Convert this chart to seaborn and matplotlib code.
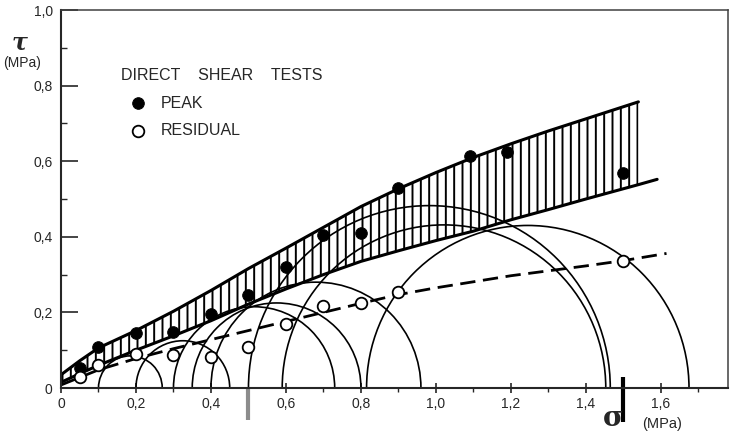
import matplotlib
matplotlib.use('Agg')
import numpy as np
import pandas as pd
import seaborn as sns
import matplotlib.pyplot as plt
from matplotlib.patches import Arc

sns.set_style('ticks')
plt.rcParams['font.family'] = ['Liberation Sans', 'DejaVu Sans']
plt.rcParams['hatch.linewidth'] = 1.4
plt.rcParams['lines.scale_dashes'] = False

# direct shear tests, normal stress sigma' vs shear stress tau (MPa)
peak_sigma = [0.05, 0.10, 0.20, 0.30, 0.40, 0.50, 0.60, 0.70, 0.80, 0.90, 1.09, 1.19, 1.50]
peak_tau = [0.052, 0.109, 0.146, 0.149, 0.196, 0.246, 0.321, 0.405, 0.409, 0.530, 0.615, 0.625, 0.570]

res_sigma = [0.05, 0.10, 0.20, 0.30, 0.40, 0.50, 0.60, 0.70, 0.80, 0.90, 1.50]
res_tau = [0.030, 0.061, 0.090, 0.087, 0.083, 0.109, 0.168, 0.217, 0.224, 0.255, 0.337]

# hatched peak strength band
band_sigma = [0.0, 0.05, 0.10, 0.20, 0.30, 0.40, 0.50, 0.60, 0.70, 0.80, 0.90, 1.00, 1.10, 1.20, 1.30, 1.40, 1.54]
band_upper = [0.035, 0.072, 0.106, 0.152, 0.203, 0.258, 0.316, 0.370, 0.425, 0.480, 0.527, 0.570, 0.610, 0.646, 0.680, 0.712, 0.757]
band_lower = [0.015, 0.038, 0.060, 0.100, 0.138, 0.178, 0.222, 0.262, 0.300, 0.335, 0.363, 0.390, 0.415, 0.445, 0.472, 0.500, 0.538]
lower_end = (1.59, 0.552)

# residual envelope (dashed)
res_env_sigma = [0.0, 0.10, 0.20, 0.30, 0.40, 0.50, 0.60, 0.70, 0.80, 0.90, 1.00, 1.20, 1.40, 1.50, 1.615]
res_env_tau = [0.008, 0.048, 0.078, 0.104, 0.128, 0.152, 0.176, 0.200, 0.224, 0.247, 0.265, 0.297, 0.323, 0.337, 0.356]

# Mohr circles (sigma3', sigma1')
circle_s3 = [0.10, 0.20, 0.30, 0.35, 0.40, 0.50, 0.59, 0.815]
circle_s1 = [0.27, 0.45, 0.73, 0.80, 0.96, 1.465, 1.453, 1.675]

x_ticks = [0, 0.2, 0.4, 0.6, 0.8, 1.0, 1.2, 1.4, 1.6]
y_ticks = [0, 0.2, 0.4, 0.6, 0.8, 1.0]

fig = plt.figure(figsize=(7.31, 4.34), dpi=100)
ax = fig.add_axes([61 / 731, 46 / 434, 667 / 731, 378 / 434])

# band
ax.fill_between(band_sigma, band_lower, band_upper, facecolor='none',
                edgecolor='black', hatch='||', linewidth=0)
sns.lineplot(x=band_sigma, y=band_upper, color='black', lw=2.2, ax=ax)
sns.lineplot(x=band_sigma + [lower_end[0]], y=band_lower + [lower_end[1]],
             color='black', lw=2.2, ax=ax)

# residual envelope
ax.plot(res_env_sigma, res_env_tau, color='black', lw=2.0, dashes=(11, 5.5))

# Mohr circles
for s3, s1 in zip(circle_s3, circle_s1):
    d = s1 - s3
    ax.add_patch(Arc(((s1 + s3) / 2, 0), d, d, theta1=0, theta2=180,
                     color='black', lw=1.2))

peaks = pd.DataFrame({'sigma': peak_sigma, 'tau': peak_tau})
resid = pd.DataFrame({'sigma': res_sigma, 'tau': res_tau})
sns.scatterplot(data=peaks, x='sigma', y='tau', color='black', edgecolor='black',
                s=70, zorder=5, label='PEAK', ax=ax)
sns.scatterplot(data=resid, x='sigma', y='tau', color='white', edgecolor='black',
                linewidth=1.3, s=70, zorder=5, label='RESIDUAL', ax=ax)

# hand marks under the axis at 0.5 and 1.5
ax.vlines([0.5], -0.085, 0.0, color='0.55', lw=3, clip_on=False)
ax.vlines([1.5], -0.09, 0.03, color='black', lw=3, clip_on=False)

ax.set_xlim(0, 1.779)
ax.set_ylim(0, 1.0)
ax.set_xticks(x_ticks)
ax.set_xticklabels([('%.1f' % v).replace('.', ',') if v else '0' for v in x_ticks])
ax.set_yticks(y_ticks)
ax.set_yticklabels([('%.1f' % v).replace('.', ',') if v else '0' for v in y_ticks])
ax.set_xticks(np.arange(0.1, 1.78, 0.2), minor=True)
ax.set_yticks(np.arange(0.1, 1.0, 0.2), minor=True)
ax.tick_params(axis='y', which='major', direction='in', length=12, width=1.2,
               labelsize=10, pad=6)
ax.tick_params(axis='y', which='minor', direction='in', length=4, width=1.0)
ax.tick_params(axis='x', which='major', direction='inout', length=7, width=1.2,
               labelsize=10, pad=3)
ax.tick_params(axis='x', which='minor', direction='out', length=3, width=1.0)
for side in ['left', 'bottom']:
    ax.spines[side].set_linewidth(1.5)
for side in ['top', 'right']:
    ax.spines[side].set_linewidth(1.1)
    ax.spines[side].set_color('0.25')
ax.set_xlabel('')
ax.set_ylabel('')

leg = ax.legend(title='DIRECT    SHEAR    TESTS', loc='upper left',
                bbox_to_anchor=(0.078, 0.868), frameon=False, alignment='left',
                handlelength=2.1, handletextpad=0.4, labelspacing=0.8,
                borderpad=0, fontsize=11.5, title_fontsize=11.5)

fig.text(20 / 731, 1 - 42 / 434, 'τ', family='DejaVu Serif', style='italic',
         weight='bold', fontsize=17, ha='center', va='center')
fig.text(22 / 731, 1 - 63 / 434, '(MPa)', fontsize=10, ha='center', va='center')
fig.text(613 / 731, 1 - 418 / 434, 'σ', family='DejaVu Serif', weight='bold',
         fontsize=20, ha='center', va='center')
fig.text(662 / 731, 1 - 424 / 434, '(MPa)', fontsize=10.5, ha='center', va='center')

fig.savefig('out.png', dpi=100)
